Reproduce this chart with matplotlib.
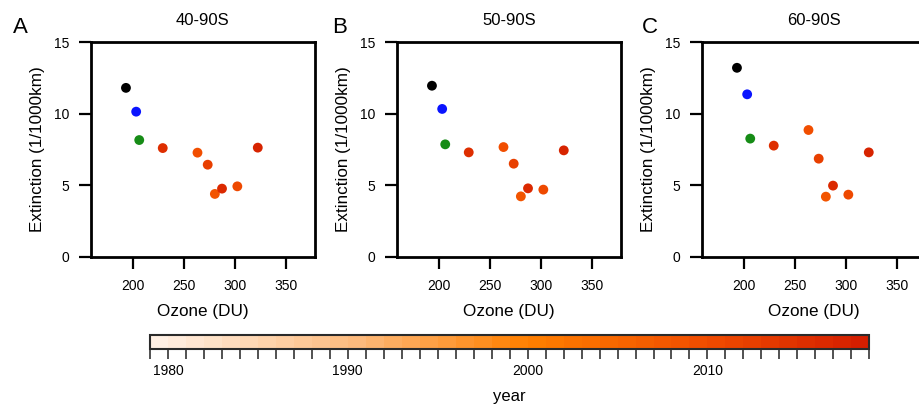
import numpy as np
import matplotlib
matplotlib.use("Agg")
import matplotlib.pyplot as plt
from matplotlib.colors import LinearSegmentedColormap, BoundaryNorm
from matplotlib.colorbar import ColorbarBase

plt.rcParams['font.family'] = ['Liberation Sans', 'DejaVu Sans']

# Southern-hemisphere band means: ozone column vs. aerosol extinction
regions = ["40-90S", "50-90S", "60-90S"]
panel_letters = ["A", "B", "C"]

# Highlighted years drawn in fixed colours
special_labels = ["black", "blue", "green"]
special_colors = ["#000000", "#0a14ff", "#168c16"]
special_ozone = [193, 203, 206]
special_ext = {
    "40-90S": [11.8, 10.14, 8.16],
    "50-90S": [11.95, 10.33, 7.86],
    "60-90S": [13.2, 11.35, 8.26],
}

# Remaining years, coloured by year
years = [2015, 2009, 2012, 2008, 2016, 2010, 2017]
ozone = [229, 263, 273, 280, 287, 302, 322]
extinction = {
    "40-90S": [7.60, 7.28, 6.44, 4.40, 4.77, 4.93, 7.63],
    "50-90S": [7.30, 7.67, 6.51, 4.23, 4.79, 4.70, 7.44],
    "60-90S": [7.77, 8.86, 6.86, 4.21, 4.98, 4.35, 7.30],
}

year_min, year_max = 1979, 2019
cbar_labels = [1980, 1990, 2000, 2010]

cmap = LinearSegmentedColormap.from_list(
    "year_orange",
    [(0.00, "#fff0e4"), (0.28, "#fdba7c"), (0.52, "#ff8000"),
     (0.78, "#f04c00"), (1.00, "#d41e00")])
bounds = np.arange(year_min, year_max + 1)
norm = BoundaryNorm(bounds, cmap.N)

W, H = 920, 404
fig = plt.figure(figsize=(W / 100, H / 100), dpi=100)

ax_left = [90.7, 396.7, 701.7]
letter_x = [12.7, 331.7, 641.7]
ax_w, ax_top, ax_bot = 224.3, 42, 257

for i, reg in enumerate(regions):
    ax = fig.add_axes([ax_left[i] / W, (H - ax_bot) / H, ax_w / W, (ax_bot - ax_top) / H])
    ax.scatter(special_ozone, special_ext[reg], c=special_colors, s=50,
               linewidths=0, zorder=3)
    ax.scatter(ozone, extinction[reg], c=np.array(years) + 0.5, cmap=cmap, norm=norm,
               s=50, linewidths=0, zorder=3)
    ax.set_xlim(158.5, 378)
    ax.set_ylim(0, 15)
    ax.set_xticks([200, 250, 300, 350])
    ax.set_yticks([0, 5, 10, 15])
    for sp in ax.spines.values():
        sp.set_linewidth(2.0)
    ax.tick_params(direction="out", length=8.5, width=1.6, pad=7, labelsize=10)
    ax.set_xlabel("Ozone (DU)", fontsize=12.3, labelpad=8)
    ax.set_ylabel("Extinction (1/1000km)", fontsize=12.3, labelpad=6)
    ax.set_title(reg, fontsize=12, pad=12)
    fig.text(letter_x[i] / W, 1 - 33.3 / H, panel_letters[i], fontsize=16,
             ha="left", va="baseline")

# Year colour bar
cax = fig.add_axes([150 / W, (H - 349) / H, 719.3 / W, 14 / H])
cb = ColorbarBase(cax, cmap=cmap, norm=norm, orientation="horizontal",
                  boundaries=bounds, ticks=bounds)
cb.set_ticks(bounds)
cb.set_ticklabels([str(y) if y in cbar_labels else "" for y in bounds])
cb.outline.set_linewidth(1.5)
cb.outline.set_edgecolor("#2a2a2a")
cax.tick_params(direction="out", length=7, width=1.2, color="#333333",
                labelsize=10, pad=4)
cb.set_label("year", fontsize=12, labelpad=8)

fig.savefig("out.png", dpi=100)
